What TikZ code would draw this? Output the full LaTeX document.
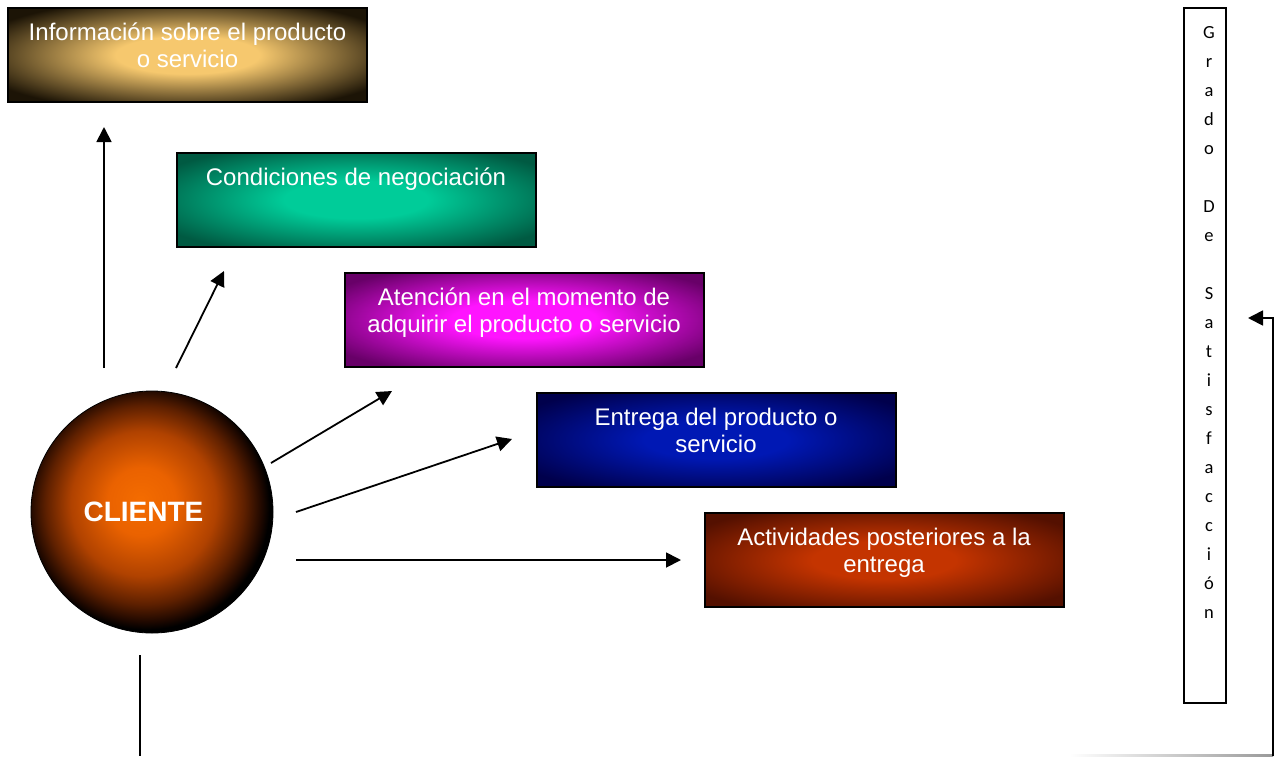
\documentclass[tikz,border=0pt]{standalone}
\usepackage{fontspec}
\setmainfont{Liberation Sans}
\newfontfamily\calfont{Carlito}
\usetikzlibrary{arrows.meta}
\definecolor{infoIn}{HTML}{F6C86E}
\definecolor{infoOut}{HTML}{1C1406}
\definecolor{condIn}{HTML}{00CC99}
\definecolor{condOut}{HTML}{005A42}
\definecolor{atenIn}{HTML}{FF14FF}
\definecolor{atenOut}{HTML}{680068}
\definecolor{entrIn}{HTML}{0018B4}
\definecolor{entrOut}{HTML}{00004C}
\definecolor{actiIn}{HTML}{C43400}
\definecolor{actiOut}{HTML}{541000}
\definecolor{ballA}{HTML}{F46C00}
\definecolor{ballB}{HTML}{EA6200}
\definecolor{ballC}{HTML}{B04200}
\definecolor{ballD}{HTML}{5E2000}
\definecolor{ballE}{HTML}{1E0800}
\colorlet{boxin}{white}
\colorlet{boxout}{black}
\pgfdeclareradialshading[boxin,boxout]{boxglow}{\pgfpoint{0bp}{0bp}}{color(0bp)=(boxin);color(10bp)=(boxin);color(31bp)=(boxout);color(50bp)=(boxout)}
\pgfdeclareradialshading{ballglow}{\pgfpoint{-2.5bp}{2.5bp}}{color(0bp)=(ballA);color(7bp)=(ballB);color(15bp)=(ballC);color(20.5bp)=(ballD);color(24bp)=(ballE);color(25.5bp)=(black);color(50bp)=(black)}
\newcommand\bxtext[1]{\begin{minipage}[c][94pt][t]{359pt}\centering\fontsize{24}{27}\selectfont\vspace*{14pt}\strut #1\end{minipage}}
\tikzset{
  box/.style={draw=black, line width=2pt, inner sep=0pt, shade, shading=boxglow, text=white},
  glow/.style 2 args={/utils/exec={\colorlet{boxin}{#1}\colorlet{boxout}{#2}}},
  arr/.style={line width=1.8pt, -{Triangle[length=15pt,width=15pt]}},
  plain/.style={line width=1.8pt},
}
\begin{document}
\begin{tikzpicture}[x=1pt,y=-1pt]
\useasboundingbox (0,0) rectangle (1279,756);
% boxes
\node[box, glow={infoIn}{infoOut}] (info) at (187.5,55) {\bxtext{Información sobre el producto\\o servicio}};
\node[box, glow={condIn}{condOut}] (cond) at (356,199.5) {\bxtext{Condiciones de negociación}};
\node[box, glow={atenIn}{atenOut}] (aten) at (524,319.5) {\bxtext{Atención en el momento de\\adquirir el producto o servicio}};
\node[box, glow={entrIn}{entrOut}] (entr) at (716,439.5) {\bxtext{Entrega del producto o\\servicio}};
\node[box, glow={actiIn}{actiOut}] (acti) at (884,560) {\bxtext{Actividades posteriores a la\\entrega}};
% vertical box
\node[draw=black, line width=1.5pt, inner sep=0pt, minimum width=42pt, minimum height=695pt] (grado) at (1205,355.5) {};
\node[anchor=north, inner sep=0pt] (gradoT) at ([xshift=4pt]grado.north) {\begin{minipage}[t]{34pt}\centering\calfont\fontsize{18.5}{29}\selectfont\vspace*{10.7pt}\strut G\\r\\a\\d\\o\\\mbox{}\\D\\e\\\mbox{}\\S\\a\\t\\i\\s\\f\\a\\c\\c\\i\\ó\\n\end{minipage}};
% client circle
\node[circle, minimum size=242pt, inner sep=0pt, draw=black, line width=0.8pt, shade, shading=ballglow, text=white, font=\bfseries\fontsize{28}{32}\selectfont] (cliente) at (152,512) {CLIENTE\hspace*{17pt}};
% connector ends
\coordinate (a1s) at (104,368); \coordinate (a1e) at (104,127);
\coordinate (a2s) at (176,368); \coordinate (a2e) at (224,271);
\coordinate (a3s) at (271,463); \coordinate (a3e) at (392,391);
\coordinate (a4s) at (296,512); \coordinate (a4e) at (512,439);
\coordinate (a5s) at (296,560); \coordinate (a5e) at (681,560);
\coordinate (b1s) at (140,655); \coordinate (b1e) at (140,756);
\coordinate (r0) at (1273,756); \coordinate (r1) at (1273,318); \coordinate (r2) at (1248,318);
\coordinate (g0) at (1070,754); \coordinate (g1) at (1273,756);
\draw[arr] (a1s) -- (a1e);
\draw[arr] (a2s) -- (a2e);
\draw[arr] (a3s) -- (a3e);
\draw[arr] (a4s) -- (a4e);
\draw[arr] (a5s) -- (a5e);
\draw[plain] (b1s) -- (b1e);
\shade[left color=white, right color=gray!80] (g0) rectangle (g1);
\draw[arr] (r0) -- (r1) -- (r2);
\end{tikzpicture}
\end{document}
